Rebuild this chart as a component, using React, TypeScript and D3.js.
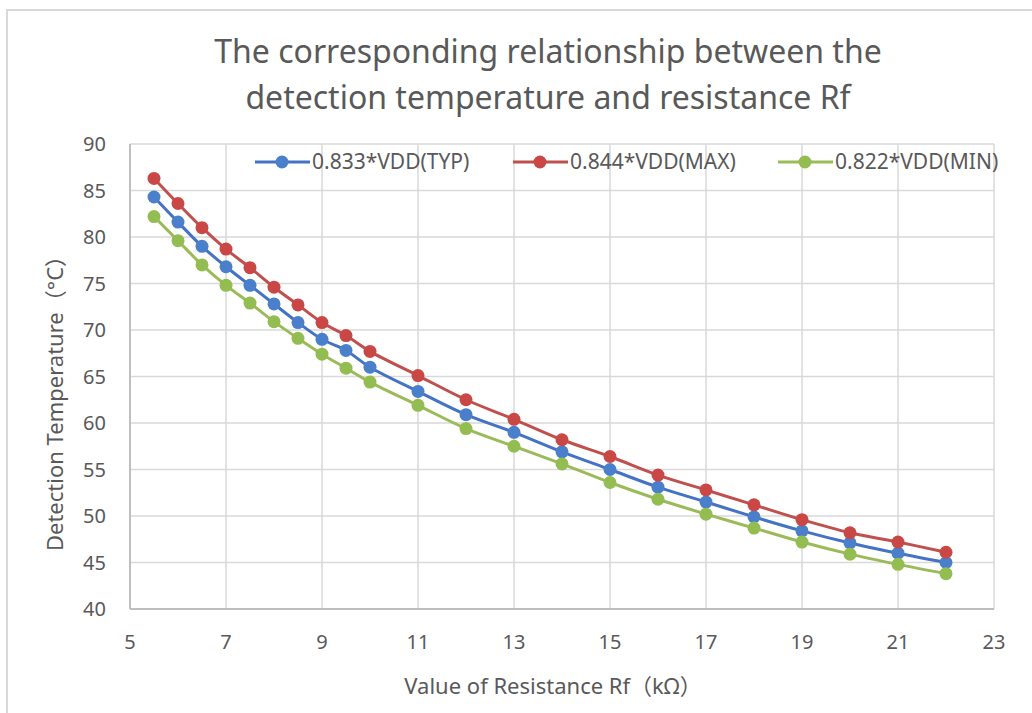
import React, { useEffect, useRef } from 'react';
import * as d3 from 'd3';

const resistance = [5.5, 6, 6.5, 7, 7.5, 8, 8.5, 9, 9.5, 10, 11, 12, 13, 14, 15, 16, 17, 18, 19, 20, 21, 22];
const typValues = [84.3, 81.6, 79.0, 76.8, 74.8, 72.8, 70.8, 69.0, 67.8, 66.0, 63.4, 60.9, 59.0, 56.9, 55.0, 53.1, 51.5, 49.9, 48.4, 47.1, 46.0, 45.0];
const maxValues = [86.3, 83.6, 81.0, 78.7, 76.7, 74.6, 72.7, 70.8, 69.4, 67.7, 65.1, 62.5, 60.4, 58.2, 56.4, 54.4, 52.8, 51.2, 49.6, 48.2, 47.2, 46.1];
const minValues = [82.2, 79.6, 77.0, 74.8, 72.9, 70.9, 69.1, 67.4, 65.9, 64.4, 61.9, 59.4, 57.5, 55.6, 53.6, 51.8, 50.2, 48.7, 47.2, 45.9, 44.8, 43.8];

const xTicks = [5, 7, 9, 11, 13, 15, 17, 19, 21, 23];
const yTicks = [40, 45, 50, 55, 60, 65, 70, 75, 80, 85, 90];

const series = [
  { name: '0.833*VDD(TYP)', values: typValues, line: '#4472C4', marker: '#4a7fcb', legendX: 255 },
  { name: '0.844*VDD(MAX)', values: maxValues, line: '#C0504D', marker: '#c94846', legendX: 513 },
  { name: '0.822*VDD(MIN)', values: minValues, line: '#9BBB59', marker: '#93bd50', legendX: 778 },
];

const W = 1032;
const H = 713;
const FONT = '"Noto Sans", "Open Sans", sans-serif';
const CJK = '"Noto Sans CJK SC", "Noto Sans", sans-serif';
const TEXT = '#595959';

export default function App() {
  const svgRef = useRef<SVGSVGElement>(null);

  useEffect(() => {
    if (!svgRef.current) return;
    const svg = d3.select(svgRef.current);
    svg.selectAll('*').remove();

    const plot = { left: 130, right: 994, top: 144, bottom: 609 };

    const x = d3.scaleLinear().domain([5, 23]).range([plot.left, plot.right]);
    const y = d3.scaleLinear().domain([40, 90]).range([plot.bottom, plot.top]);

    // background + outer chart frame
    svg.append('rect').attr('width', W).attr('height', H).attr('fill', '#fff');
    svg.append('rect')
      .attr('x', 7).attr('y', 10)
      .attr('width', W + 20).attr('height', H + 20)
      .attr('fill', 'none')
      .attr('stroke', '#d9d9d9')
      .attr('stroke-width', 2);

    // grid
    const grid = svg.append('g');
    grid.selectAll('.gx').data(xTicks).enter().append('line')
      .attr('x1', d => x(d)).attr('x2', d => x(d))
      .attr('y1', plot.top).attr('y2', plot.bottom)
      .attr('stroke', '#d9d9d9').attr('stroke-width', 1.5);
    grid.selectAll('.gy').data(yTicks).enter().append('line')
      .attr('x1', plot.left).attr('x2', plot.right)
      .attr('y1', d => y(d)).attr('y2', d => y(d))
      .attr('stroke', '#d9d9d9').attr('stroke-width', 1.5);

    // axis lines
    svg.append('line')
      .attr('x1', plot.left).attr('x2', plot.right)
      .attr('y1', plot.bottom).attr('y2', plot.bottom)
      .attr('stroke', '#bfbfbf').attr('stroke-width', 2);
    svg.append('line')
      .attr('x1', plot.left).attr('x2', plot.left)
      .attr('y1', plot.top).attr('y2', plot.bottom)
      .attr('stroke', '#bfbfbf').attr('stroke-width', 2);

    // tick labels
    svg.append('g').selectAll('text').data(yTicks).enter().append('text')
      .attr('x', 106).attr('y', d => y(d)).attr('dy', '0.35em')
      .attr('text-anchor', 'end')
      .attr('font-family', FONT).attr('font-size', 20).attr('fill', TEXT)
      .text(d => d);
    svg.append('g').selectAll('text').data(xTicks).enter().append('text')
      .attr('x', d => x(d)).attr('y', 649)
      .attr('text-anchor', 'middle')
      .attr('font-family', FONT).attr('font-size', 20).attr('fill', TEXT)
      .text(d => d);

    // lines + markers
    const line = d3.line<number>()
      .x((_, i) => x(resistance[i]))
      .y(d => y(d))
      .curve(d3.curveCatmullRom.alpha(0.5));

    series.forEach(s => {
      svg.append('path')
        .attr('d', line(s.values) as string)
        .attr('fill', 'none')
        .attr('stroke', s.line)
        .attr('stroke-width', 3);
      svg.append('g').selectAll('circle').data(s.values).enter().append('circle')
        .attr('cx', (_, i) => x(resistance[i]))
        .attr('cy', d => y(d))
        .attr('r', 6.5)
        .attr('fill', s.marker);
    });

    // legend
    const legendY = 162;
    series.forEach(s => {
      const g = svg.append('g').attr('transform', `translate(${s.legendX},${legendY})`);
      g.append('line').attr('x1', 0).attr('x2', 55).attr('y1', 0).attr('y2', 0)
        .attr('stroke', s.line).attr('stroke-width', 3);
      g.append('circle').attr('cx', 27).attr('cy', 0).attr('r', 6.5).attr('fill', s.marker);
      g.append('text').attr('x', 57).attr('y', 0).attr('dy', '0.35em')
        .attr('font-family', FONT).attr('font-size', 21).attr('fill', TEXT)
        .text(s.name);
    });

    // title
    svg.append('text')
      .attr('x', 548).attr('y', 63)
      .attr('text-anchor', 'middle')
      .attr('font-family', FONT).attr('font-size', 32).attr('fill', TEXT)
      .text('The corresponding relationship between the');
    svg.append('text')
      .attr('x', 548).attr('y', 109)
      .attr('text-anchor', 'middle')
      .attr('font-family', FONT).attr('font-size', 32).attr('fill', TEXT)
      .text('detection temperature and resistance Rf');

    // axis titles (full-width brackets drawn with the CJK face)
    const xTitle = svg.append('text')
      .attr('x', 553).attr('y', 694)
      .attr('text-anchor', 'middle')
      .attr('font-family', FONT).attr('font-size', 22).attr('fill', TEXT);
    xTitle.append('tspan').text('Value of Resistance Rf');
    xTitle.append('tspan').attr('font-family', CJK).text('（');
    xTitle.append('tspan').text('kΩ');
    xTitle.append('tspan').attr('font-family', CJK).text('）');

    const yTitle = svg.append('text')
      .attr('transform', 'translate(63,398) rotate(-90)')
      .attr('text-anchor', 'middle')
      .attr('font-family', FONT).attr('font-size', 22).attr('fill', TEXT);
    yTitle.append('tspan').text('Detection Temperature');
    yTitle.append('tspan').attr('font-family', CJK).text('（');
    yTitle.append('tspan').text('°C');
    yTitle.append('tspan').attr('font-family', CJK).text('）');
  }, []);

  return (
    <svg
      ref={svgRef}
      width={W}
      height={H}
      style={{ position: 'absolute', left: 0, top: 0 }}
    />
  );
}
